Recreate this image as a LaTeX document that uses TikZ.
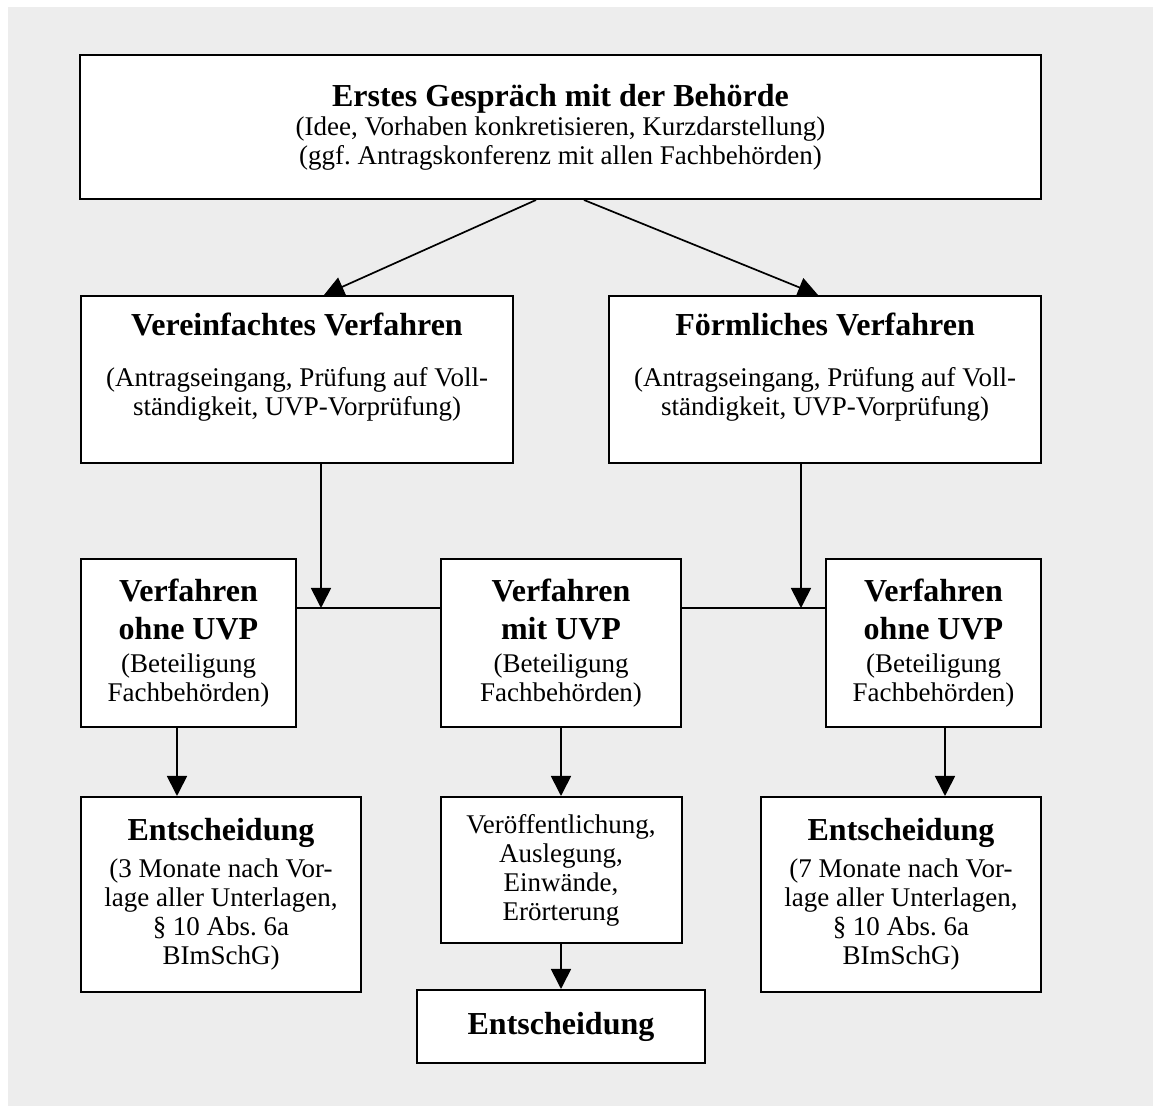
\documentclass[tikz,border=0pt]{standalone}
\usepackage{fontspec}
\setmainfont{Liberation Serif}
\usetikzlibrary{arrows.meta,calc}
\definecolor{bggray}{RGB}{237,237,237}
\frenchspacing
\newlength\pxu \setlength\pxu{0.5pt}
\newcommand\bt{\fontsize{16pt}{18pt}\selectfont\bfseries}
\newcommand\rg{\fontsize{13.5pt}{14.5pt}\selectfont\mdseries}
\newcommand\bxc[4]{\parbox[c][#2\pxu][#3]{#1\pxu}{\frenchspacing\centering #4}}
\begin{document}
\begin{tikzpicture}[x=0.5pt,y=-0.5pt,
  box/.style={draw=black, fill=white, line width=1pt, inner sep=0pt},
  arr/.style={draw=black, line width=0.85pt, -{Triangle[length=10pt,width=10pt]}},
  ln/.style={draw=black, line width=0.85pt}]
\useasboundingbox (0,0) rectangle (1153,1106);
\fill[bggray] (8,7) rectangle (1153,1106);

\node[box] (top) at (560.5,127) {\bxc{961}{144}{c}{\bt Erstes Gespräch mit der Behörde\\ \rg (Idee, Vorhaben konkretisieren, Kurzdarstellung)\\ (ggf. Antragskonferenz mit allen Fachbehörden)}};

\node[box] (vf) at (297,379.5) {\bxc{432}{167}{t}{\bt\rule{0pt}{20pt}Vereinfachtes Verfahren\\[11pt] \rg (Antragseingang, Prüfung auf Voll-\\ ständigkeit, UVP-Vorprüfung)}};
\node[box] (fv) at (825,379.5) {\bxc{432}{167}{t}{\bt\rule{0pt}{20pt}Förmliches Verfahren\\[11pt] \rg (Antragseingang, Prüfung auf Voll-\\ ständigkeit, UVP-Vorprüfung)}};

\node[box] (ol) at (188.5,643) {\bxc{215}{168}{c}{\bt Verfahren\\[1pt] ohne UVP\\[2pt] \rg (Beteiligung\\ Fachbehörden)}};
\node[box] (mu) at (561,643) {\bxc{240}{168}{c}{\bt Verfahren\\[1pt] mit UVP\\[2pt] \rg (Beteiligung\\ Fachbehörden)}};
\node[box] (or) at (933.5,643) {\bxc{215}{168}{c}{\bt Verfahren\\[1pt] ohne UVP\\[2pt] \rg (Beteiligung\\ Fachbehörden)}};

\node[box] (el) at (221,894.5) {\bxc{280}{195}{c}{\bt Entscheidung\\[4pt] \rg (3 Monate nach Vor-\\ lage aller Unterlagen,\\ § 10 Abs. 6a\\ BImSchG)}};
\node[box] (vo) at (561,870) {\bxc{241}{146}{c}{\rg Veröffentlichung,\\ Auslegung,\\ Einwände,\\ Erörterung}};
\node[box] (er) at (901,894.5) {\bxc{280}{195}{c}{\bt Entscheidung\\[4pt] \rg (7 Monate nach Vor-\\ lage aller Unterlagen,\\ § 10 Abs. 6a\\ BImSchG)}};

\node[box] (ent) at (561,1026.5) {\bxc{288}{73}{c}{\bt Entscheidung}};

\draw[arr] ($(top.south)+(-24.5,0)$) -- ($(vf.north)+(27,0)$);
\draw[arr] ($(top.south)+(23.5,0)$) -- ($(fv.north)+(-7,0)$);

\coordinate (ja) at (321,608);
\coordinate (jb) at (801,608);
\draw[arr] (vf.south -| ja) -- (ja);
\draw[arr] (fv.south -| jb) -- (jb);
\draw[ln] (ol.east |- ja) -- (mu.west |- ja);
\draw[ln] (mu.east |- jb) -- (or.west |- jb);

\coordinate (xl) at (177,0);
\coordinate (xr) at (945,0);
\draw[arr] (ol.south -| xl) -- (el.north -| xl);
\draw[arr] (mu.south) -- (vo.north);
\draw[arr] (or.south -| xr) -- (er.north -| xr);
\draw[arr] (vo.south) -- (ent.north);
\end{tikzpicture}
\end{document}
